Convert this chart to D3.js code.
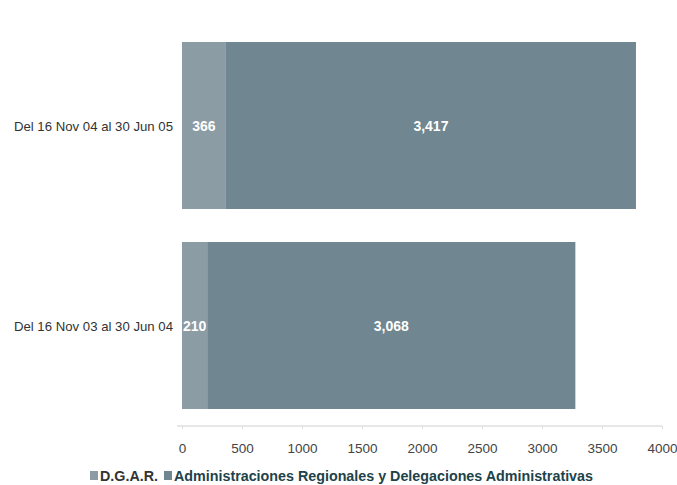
<!DOCTYPE html>
<html><head><meta charset="utf-8">
<script src="https://cdn.jsdelivr.net/npm/d3@7"></script>
<style>body{margin:0;background:#fff;font-family:"Liberation Sans",Arial,sans-serif;}</style>
</head><body><svg id="c" width="677" height="485"></svg>
<script>
const categories = ["Del 16 Nov 04 al 30 Jun 05", "Del 16 Nov 03 al 30 Jun 04"];
const seriesNames = ["D.G.A.R.", "Administraciones Regionales y Delegaciones Administrativas"];
const dgar = [366, 210];
const admin = [3417, 3068];
const xTicks = [0, 500, 1000, 1500, 2000, 2500, 3000, 3500, 4000];
const colors = ["#8c9ca5", "#708690"];
const legendColors = ["#333333", "#1e4249"];

const svg = d3.select("#c");
const x = d3.scaleLinear().domain([0, 4000]).range([182, 662]);
const y = d3.scaleBand().domain(categories).range([42, 409]).paddingInner(0.165).paddingOuter(0);

const rows = categories.map((c, i) => ({cat: c, vals: [dgar[i], admin[i]]}));
rows.forEach(r => {
  let acc = 0;
  r.segs = r.vals.map((v, k) => { const s = {k, v, x0: acc, x1: acc + v, cat: r.cat}; acc += v; return s; });
});

const g = svg.append("g");
rows.forEach(r => {
  g.selectAll(null).data(r.segs).enter().append("rect")
    .attr("x", d => x(d.x0)).attr("width", d => x(d.x1) - x(d.x0))
    .attr("y", y(r.cat)).attr("height", y.bandwidth())
    .attr("fill", d => colors[d.k]);
  g.selectAll(null).data(r.segs).enter().append("text")
    .attr("x", d => (x(d.x0) + x(d.x1)) / 2)
    .attr("y", y(r.cat) + y.bandwidth() / 2 + 5)
    .attr("text-anchor", "middle").attr("fill", "#fff")
    .attr("font-size", 14).attr("font-weight", "bold")
    .text(d => d3.format(",")(d.v));
  g.append("text").attr("x", 173).attr("y", y(r.cat) + y.bandwidth() / 2 + 5)
    .attr("text-anchor", "end").attr("fill", "#333").attr("font-size", 13.2)
    .text(r.cat);
});

const ax = svg.append("g").attr("transform", "translate(0,426)")
  .call(d3.axisBottom(x).tickValues(xTicks).tickSize(0).tickPadding(17).tickFormat(d3.format("d")));
ax.select(".domain").attr("stroke", "#cfcfcf").attr("d", "M177,0H662");
ax.selectAll("text").attr("fill", "#444").attr("font-size", 13.5).attr("font-family", "Liberation Sans, Arial, sans-serif");
ax.selectAll(".tick").append("line").attr("y1", 0).attr("y2", 3).attr("stroke", "#ddd");

const leg = svg.append("g").attr("transform", "translate(90,481)");
let lx = 0;
seriesNames.forEach((n, i) => {
  leg.append("rect").attr("x", lx).attr("y", -10).attr("width", 8).attr("height", 9).attr("fill", colors[i]);
  const t = leg.append("text").attr("x", lx + 10).attr("y", 0).attr("font-size", 14.3).attr("font-weight", "bold")
    .attr("fill", legendColors[i]).text(n);
  lx += 10 + t.node().getComputedTextLength() + 6;
});
</script></body></html>
